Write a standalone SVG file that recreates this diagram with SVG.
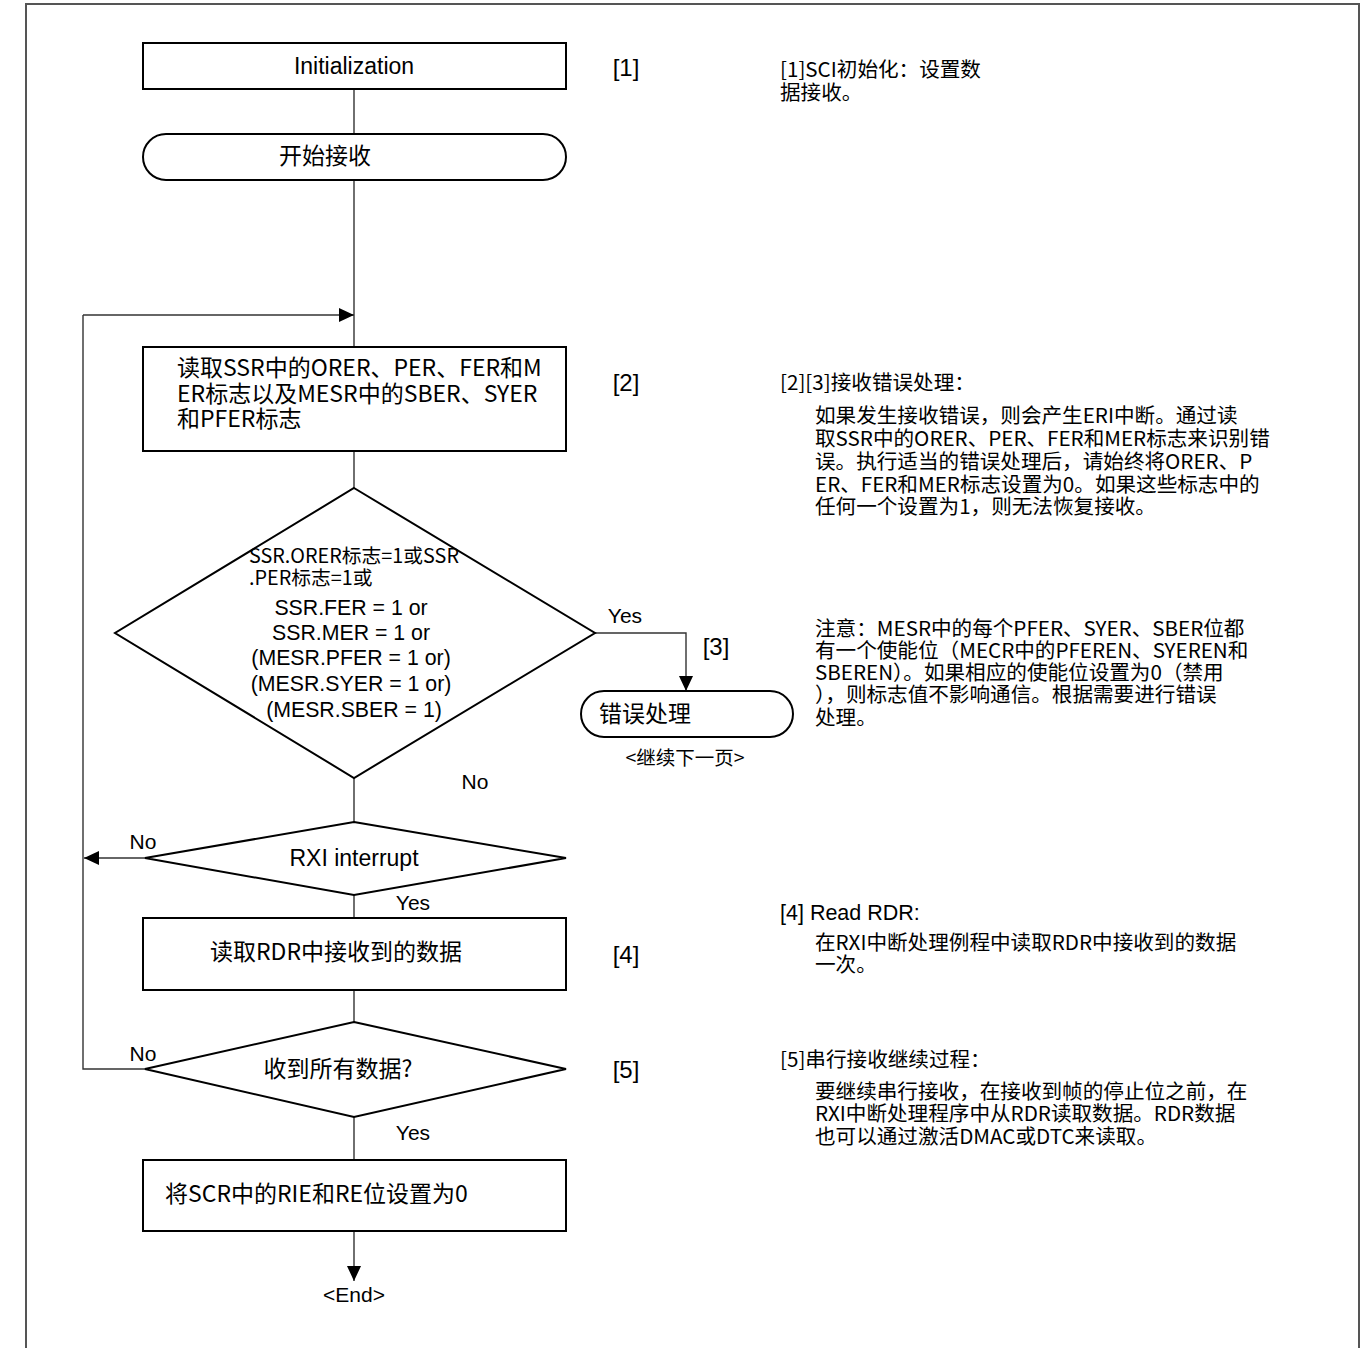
<svg xmlns="http://www.w3.org/2000/svg" width="1370" height="1348" viewBox="0 0 1370 1348">
<defs>
<marker id="ah" viewBox="0 0 15 14" refX="15" refY="7" markerWidth="15" markerHeight="14" markerUnits="userSpaceOnUse" orient="auto">
<path d="M0,0 L15,7 L0,14 Z" fill="#000"/>
</marker>
<style>
.shape{fill:#fff;stroke:#000;stroke-width:2}
.conn{fill:none;stroke:#333;stroke-width:1.4}
.ar{font-family:"Liberation Sans",Arial,sans-serif;fill:#000}
.cjk{font-family:"Noto Sans CJK SC","Noto Sans",sans-serif;fill:#000}
.box{font-size:23px}
.note{font-size:20.6px}
</style>
</defs>
<rect width="1370" height="1348" fill="#fff"/>
<path d="M26,1348 V4 H1359 V1348" fill="none" stroke="#555" stroke-width="2"/>

<g id="connectors">
<path class="conn" d="M354,89 V134"/>
<path class="conn" d="M354,180 V347"/>
<path class="conn" d="M83,315 H354" marker-end="url(#ah)"/>
<path class="conn" d="M354,451 V488"/>
<path class="conn" d="M595,633 H686 V691" marker-end="url(#ah)"/>
<path class="conn" d="M354,778 V822"/>
<path class="conn" d="M145,858 H84" marker-end="url(#ah)"/>
<path class="conn" d="M354,895 V918"/>
<path class="conn" d="M354,990 V1022"/>
<path class="conn" d="M145,1069 H83 V315"/>
<path class="conn" d="M354,1117 V1160"/>
<path class="conn" d="M354,1231 V1281" marker-end="url(#ah)"/>
</g>

<g id="init">
<rect class="shape" x="143" y="43" width="423" height="46"/>
<text class="ar" x="354" y="74" font-size="23" text-anchor="middle">Initialization</text>
<text class="ar" x="626" y="76" font-size="24" text-anchor="middle">[1]</text>
</g>

<g id="start">
<rect class="shape" x="143" y="134" width="423" height="46" rx="23" ry="23"/>
<text class="cjk box" x="325" y="164" text-anchor="middle">开始接收</text>
</g>

<g id="read-flags">
<rect class="shape" x="143" y="347" width="423" height="104"/>
<text class="cjk box" x="177" y="376">读取SSR中的ORER、PER、FER和M</text>
<text class="cjk box" x="177" y="402">ER标志以及MESR中的SBER、SYER</text>
<text class="cjk box" x="177" y="427">和PFER标志</text>
<text class="ar" x="626" y="391" font-size="24" text-anchor="middle">[2]</text>
</g>

<g id="error-check">
<polygon class="shape" points="354,488 595,633 354,778 115,633"/>
<text class="cjk" x="249" y="563" font-size="19.8">SSR.ORER标志=1或SSR</text>
<text class="cjk" x="249" y="585" font-size="19.8">.PER标志=1或</text>
<text class="ar" font-size="21.3" text-anchor="middle">
<tspan x="354" y="615">SSR.FER = 1 or</tspan>
<tspan x="354" y="640">SSR.MER = 1 or</tspan>
<tspan x="354" y="665">(MESR.PFER = 1 or)</tspan>
<tspan x="354" y="691">(MESR.SYER = 1 or)</tspan>
<tspan x="354" y="717">(MESR.SBER = 1)</tspan>
</text>
<text class="ar" x="625" y="623" font-size="21" text-anchor="middle">Yes</text>
<text class="ar" x="475" y="789" font-size="21" text-anchor="middle">No</text>
<text class="ar" x="716" y="655" font-size="24" text-anchor="middle">[3]</text>
</g>

<g id="error-handling">
<rect class="shape" x="581" y="691" width="212" height="46" rx="23" ry="23"/>
<text class="cjk box" x="599" y="722">错误处理</text>
<text class="cjk" x="685" y="765" font-size="19.5" text-anchor="middle">&lt;继续下一页&gt;</text>
</g>

<g id="rxi">
<polygon class="shape" points="354,822 566,858 354,895 145,858"/>
<text class="ar" x="354" y="866" font-size="23" text-anchor="middle">RXI interrupt</text>
<text class="ar" x="143" y="849" font-size="21" text-anchor="middle">No</text>
<text class="ar" x="413" y="910" font-size="21" text-anchor="middle">Yes</text>
</g>

<g id="read-rdr">
<rect class="shape" x="143" y="918" width="423" height="72"/>
<text class="cjk box" x="210" y="960">读取RDR中接收到的数据</text>
<text class="ar" x="626" y="963" font-size="24" text-anchor="middle">[4]</text>
</g>

<g id="all-received">
<polygon class="shape" points="354,1022 566,1069 354,1117 145,1069"/>
<text class="cjk box" x="338" y="1077" text-anchor="middle">收到所有数据?</text>
<text class="ar" x="143" y="1061" font-size="21" text-anchor="middle">No</text>
<text class="ar" x="413" y="1140" font-size="21" text-anchor="middle">Yes</text>
<text class="ar" x="626" y="1078" font-size="24" text-anchor="middle">[5]</text>
</g>

<g id="clear-bits">
<rect class="shape" x="143" y="1160" width="423" height="71"/>
<text class="cjk box" x="165" y="1202">将SCR中的RIE和RE位设置为0</text>
</g>

<g id="end">
<text class="ar" x="354" y="1302" font-size="21" text-anchor="middle">&lt;End&gt;</text>
</g>

<g id="notes">
<text class="cjk note" x="780" y="77">[1]SCI初始化：设置数</text>
<text class="cjk note" x="780" y="100">据接收。</text>

<text class="cjk note" x="780" y="390">[2][3]接收错误处理：</text>
<text class="cjk note" x="815" y="423">如果发生接收错误，则会产生ERI中断。通过读</text>
<text class="cjk note" x="815" y="446">取SSR中的ORER、PER、FER和MER标志来识别错</text>
<text class="cjk note" x="815" y="469">误。执行适当的错误处理后，请始终将ORER、P</text>
<text class="cjk note" x="815" y="492">ER、FER和MER标志设置为0。如果这些标志中的</text>
<text class="cjk note" x="815" y="514">任何一个设置为1，则无法恢复接收。</text>

<text class="cjk note" x="815" y="636">注意：MESR中的每个PFER、SYER、SBER位都</text>
<text class="cjk note" x="815" y="658">有一个使能位（MECR中的PFEREN、SYEREN和</text>
<text class="cjk note" x="815" y="680">SBEREN）。如果相应的使能位设置为0（禁用</text>
<text class="cjk note" x="815" y="702">），则标志值不影响通信。根据需要进行错误</text>
<text class="cjk note" x="815" y="725">处理。</text>

<text class="ar" x="780" y="920" font-size="21.5">[4] Read RDR:</text>
<text class="cjk note" x="815" y="950">在RXI中断处理例程中读取RDR中接收到的数据</text>
<text class="cjk note" x="815" y="972">一次。</text>

<text class="cjk note" x="780" y="1067">[5]串行接收继续过程：</text>
<text class="cjk note" x="815" y="1099">要继续串行接收，在接收到帧的停止位之前，在</text>
<text class="cjk note" x="815" y="1121">RXI中断处理程序中从RDR读取数据。RDR数据</text>
<text class="cjk note" x="815" y="1144">也可以通过激活DMAC或DTC来读取。</text>
</g>
</svg>
